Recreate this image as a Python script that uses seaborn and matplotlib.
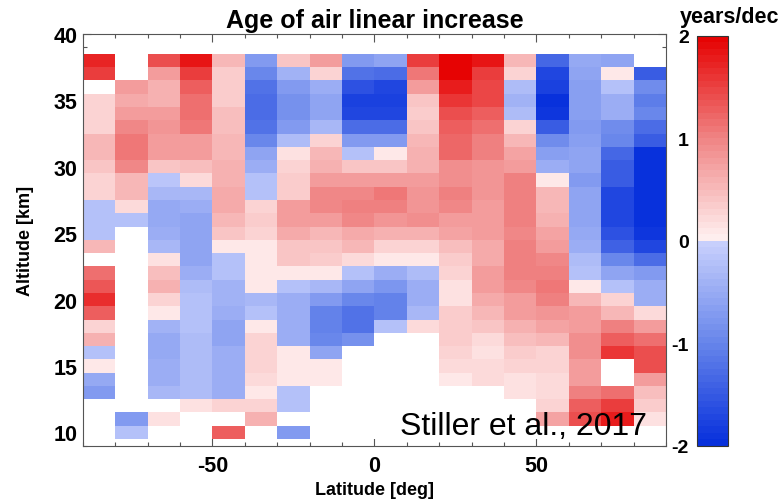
import numpy as np
import pandas as pd
import matplotlib
matplotlib.use("Agg")
import matplotlib.pyplot as plt
from matplotlib.colors import LinearSegmentedColormap, ListedColormap
from matplotlib.ticker import FixedLocator
import seaborn as sns

nan = np.nan

# altitude rows (km), listed top to bottom
altitudes = list(range(38, 9, -1))
# latitude bin centres (deg)
latitudes = [-85, -75, -65, -55, -45, -35, -25, -15, -5, 5, 15, 25, 35, 45, 55, 65, 75, 85]

# trend values (years/decade) per latitude bin, from 38 km down to 10 km
lat_m85 = [1.7, 1.5, nan, 0.25, 0.25, 0.25, 0.5, 0.5, 0.4, 0.3, 0.3, -0.2, -0.2, -0.2, 0.55, nan,
           1.15, 1.35, 1.65, 1.3, 0.3, 0.6, -0.2, 0.1, -0.55, -0.7, nan, nan, nan]
lat_m75 = [nan, nan, 0.8, 0.65, 0.8, 0.95, 1.1, 1.1, 0.95, 0.55, 0.55, 0.2, -0.2, nan, nan, nan,
           nan, nan, nan, nan, nan, nan, nan, nan, nan, nan, nan, -0.7, -0.2]
lat_m65 = [1.4, 0.75, 0.6, 0.6, 0.75, 0.85, 0.75, 0.75, 0.4, -0.15, -0.35, -0.55, -0.55, -0.45, -0.35, 0.15,
           0.45, 0.6, 0.3, 0.1, -0.4, -0.55, -0.55, -0.45, -0.45, -0.35, nan, 0.15, nan]
lat_m55 = [1.85, 1.5, 1.25, 1.15, 1.15, 1.1, 0.8, 0.8, 0.45, 0.2, -0.35, -0.5, -0.6, -0.6, -0.6, -0.6,
           -0.5, -0.3, -0.25, -0.25, -0.25, -0.3, -0.3, -0.3, -0.3, -0.3, 0.15, nan, nan]
lat_m45 = [0.5, 0.35, 0.35, 0.35, 0.45, 0.45, 0.55, 0.5, 0.6, 0.6, 0.65, 0.65, 0.5, 0.4, 0.1, -0.25,
           -0.25, -0.4, -0.4, -0.5, -0.6, -0.6, -0.5, -0.45, -0.45, -0.45, 0.25, nan, 1.25]
lat_m35 = [-0.7, -1.0, -1.2, -1.3, -1.3, -1.2, -0.95, -0.6, -0.45, -0.25, -0.25, 0.3, 0.35, 0.3, 0.1, 0.1,
           0.1, 0.1, -0.35, -0.25, 0.1, 0.25, 0.25, 0.25, 0.2, 0.1, 0.25, 0.6, nan]
lat_m25 = [0.4, -0.4, -0.7, -0.85, -0.85, -0.7, -0.3, 0.15, 0.3, 0.35, 0.35, 0.75, 0.75, 0.65, 0.4, 0.4,
           0.1, -0.25, -0.45, -0.5, -0.45, -0.45, 0.08, 0.08, 0.08, -0.25, -0.25, nan, -0.7]
lat_m15 = [0.8, 0.3, -0.45, -0.6, -0.6, -0.35, 0.3, 0.5, 0.6, 0.75, 0.95, 0.95, 0.8, 0.5, 0.4, 0.35,
           0.1, -0.35, -0.7, -1.05, -1.05, -0.95, -0.6, 0.08, 0.08, nan, nan, nan, nan]
lat_m05 = [-0.7, -1.2, -1.6, -1.8, -1.7, -1.3, -0.7, -0.25, 0.4, 0.75, 0.95, 1.0, 0.95, 0.65, 0.5, 0.2,
           -0.25, -0.6, -1.0, -1.25, -1.25, -0.85, nan, nan, nan, nan, nan, nan, nan]
lat_p05 = [-0.6, -1.3, -1.7, -1.8, -1.7, -1.3, -0.7, 0.08, 0.4, 0.8, 1.1, 1.0, 0.85, 0.6, 0.3, 0.1,
           -0.45, -0.8, -1.05, -1.05, -0.25, nan, nan, nan, nan, nan, nan, nan, nan]
lat_p15 = [1.5, 1.1, 0.75, 0.4, 0.35, 0.4, 0.5, 0.6, 0.6, 0.8, 0.85, 0.85, 0.9, 0.6, 0.3, 0.1,
           -0.3, -0.5, -0.5, -0.35, 0.2, nan, nan, nan, nan, nan, nan, nan, nan]
lat_p25 = [2.0, 1.95, 1.8, 1.6, 1.4, 1.25, 1.2, 1.2, 0.9, 0.9, 1.0, 0.95, 0.75, 0.7, 0.45, 0.35,
           0.3, 0.15, 0.15, 0.35, 0.35, 0.35, 0.3, 0.2, 0.1, nan, nan, nan, nan]
lat_p35 = [1.85, 1.5, 1.45, 1.45, 1.25, 1.15, 1.0, 1.0, 0.85, 0.85, 0.85, 0.75, 0.8, 0.75, 0.65, 0.65,
           0.8, 0.8, 0.65, 0.5, 0.4, 0.2, 0.15, 0.2, 0.2, nan, nan, nan, nan]
lat_p45 = [0.55, 0.25, -0.3, -0.4, -0.3, 0.25, 0.55, 0.7, 0.75, 1.0, 1.0, 1.05, 1.05, 0.95, 1.0, 1.05,
           1.05, 0.95, 0.8, 0.8, 0.6, 0.45, 0.35, 0.3, 0.15, 0.15, nan, nan, nan]
lat_p55 = [-1.35, -1.7, -1.8, -2.0, -1.9, -1.5, -0.9, -0.65, -0.45, 0.08, 0.5, 0.5, 0.6, 0.7, 0.8, 0.95,
           1.05, 1.1, 1.05, 0.85, 0.7, 0.55, 0.3, 0.25, 0.2, 0.2, 0.3, 0.7, nan]
lat_p65 = [-0.55, -0.6, -0.65, -0.65, -0.65, -0.7, -0.65, -0.6, -0.6, -0.7, -0.6, -0.6, -0.6, -0.55, -0.45, -0.3,
           -0.25, 0.08, 0.5, 0.8, 0.8, 0.9, 0.9, 0.75, 0.75, 1.05, 1.25, 1.4, nan]
lat_p75 = [-0.6, 0.08, -0.25, -0.45, -0.5, -0.9, -1.0, -1.35, -1.5, -1.5, -1.7, -1.7, -1.7, -1.6, -1.4, -1.0,
           -0.6, -0.25, 0.25, 0.55, 1.0, 1.3, 1.6, nan, nan, 1.15, 1.5, 1.75, nan]
lat_p85 = [nan, -1.5, -0.9, -1.1, -1.0, -1.3, -1.5, -2.0, -2.0, -2.0, -1.95, -1.95, -1.95, -1.9, -1.7, -1.3,
           -0.75, -0.5, -0.45, 0.2, 0.8, 1.15, 1.4, 1.4, 0.75, 0.45, 0.35, 0.15, nan]

columns = [lat_m85, lat_m75, lat_m65, lat_m55, lat_m45, lat_m35, lat_m25, lat_m15, lat_m05,
           lat_p05, lat_p15, lat_p25, lat_p35, lat_p45, lat_p55, lat_p65, lat_p75, lat_p85]

df = pd.DataFrame(np.array(columns).T, index=altitudes, columns=latitudes).sort_index()

# colour scale: blue -> light blue | near white pink -> red, discretised
nodes = [
    (0.0, (0.02, 0.18, 0.86)),
    (0.25, (0.40, 0.52, 0.92)),
    (0.4999, (0.79, 0.82, 0.99)),
    (0.5001, (1.0, 0.95, 0.95)),
    (0.75, (0.94, 0.52, 0.52)),
    (1.0, (0.90, 0.0, 0.0)),
]
base = LinearSegmentedColormap.from_list("aoa", nodes, N=512)
cmap = ListedColormap(base((np.arange(64) + 0.5) / 64))
cmap.set_bad("white")

plt.rcParams["font.family"] = ["Liberation Sans", "DejaVu Sans"]
plt.rcParams["axes.unicode_minus"] = False

W, H = 779, 502
fig = plt.figure(figsize=(W / 100, H / 100), dpi=100)
ax = fig.add_axes([82.7 / W, 1 - 446.7 / H, 583.3 / W, 411.7 / H])
cax = fig.add_axes([697 / W, 1 - 446.7 / H, 31 / W, 409.7 / H])

sns.heatmap(df, cmap=cmap, vmin=-2, vmax=2, ax=ax, cbar_ax=cax,
            xticklabels=False, yticklabels=False,
            cbar_kws={"ticks": [-2, -1, 0, 1, 2]})
cbar = ax.collections[0].colorbar

# numeric axes: column j spans lat -90+10j .. -80+10j ; row i spans alt i+9.5 .. i+10.5
def lat2x(v):
    return (v + 90) / 10.0

def alt2y(v):
    return v - 9.5

ax.set_xlim(lat2x(-90), lat2x(90))
ax.set_ylim(alt2y(9), alt2y(40))

ax.set_xticks([lat2x(v) for v in [-50, 0, 50]])
ax.set_xticklabels(["-50", "0", "50"], fontweight="bold", fontsize=15.5)
ax.xaxis.set_minor_locator(FixedLocator([lat2x(v) for v in range(-90, 91, 10)]))
ax.set_yticks([alt2y(v) for v in range(10, 41, 5)])
ax.set_yticklabels([str(v) for v in range(10, 41, 5)], fontweight="bold", fontsize=15.5, rotation=0)
ax.yaxis.set_minor_locator(FixedLocator([alt2y(v) for v in range(9, 41)]))

ax.tick_params(which="both", direction="in", top=True, right=True, bottom=True, left=True,
               color="#555555", width=0.8)
ax.tick_params(which="major", length=6)
ax.tick_params(which="minor", length=3)
ax.tick_params(axis="x", which="major", pad=7)
ax.tick_params(axis="y", which="major", pad=4)
ax.set_axisbelow(True)

for s in ax.spines.values():
    s.set_visible(True)
    s.set_color("#555555")
    s.set_linewidth(0.8)

ax.set_xlabel("Latitude [deg]", fontweight="bold", fontsize=13, labelpad=3)
ax.set_ylabel("Altitude [km]", fontweight="bold", fontsize=13, labelpad=14)
ax.set_title("Age of air linear increase", fontweight="bold", fontsize=18, pad=5)

ax.text(0.967, 0.028, "Stiller et al., 2017", transform=ax.transAxes,
        ha="right", va="baseline", fontsize=23)

cax.yaxis.set_ticks_position("left")
cax.yaxis.set_label_position("left")
cax.tick_params(length=0, pad=6, labelsize=14)
for lab in cax.get_yticklabels():
    lab.set_fontweight("bold")
cbar.outline.set_edgecolor("#333333")
cbar.outline.set_linewidth(0.8)

fig.text(730 / W, 1 - 17 / H, "years/dec", ha="center", va="center",
         fontweight="bold", fontsize=15.5)

fig.savefig("out.png", dpi=100)
